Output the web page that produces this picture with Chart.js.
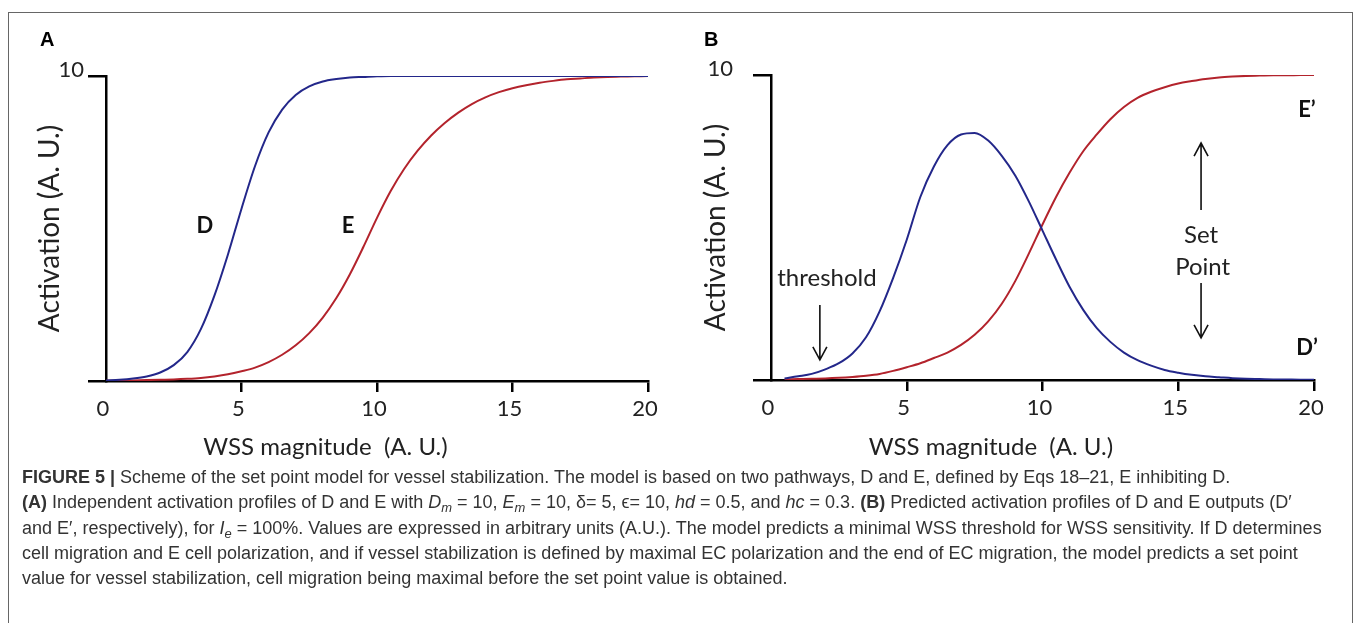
<!DOCTYPE html>
<html>
<head>
<meta charset="utf-8">
<script src="https://cdn.jsdelivr.net/npm/chart.js@4.4.1/dist/chart.umd.min.js"></script>
<style>
  body { margin: 0; background: #fff; }
  #fig { position: relative; width: 1357px; height: 623px; overflow: hidden; background: #fff; }
  #frame { position: absolute; left: 8px; top: 12px; width: 1343px; height: 700px; border: 1px solid #666; }
  #cA { position: absolute; left: 0; top: 0; }
  #cB { position: absolute; left: 680px; top: 0; }
  #caption { position: absolute; left: 22px; top: 465px; font-family: "Liberation Sans", Arial, sans-serif;
             font-size: 18px; line-height: 25.3px; color: #333; white-space: nowrap; }
  #caption sub { font-size: 0.72em; line-height: 0; vertical-align: -0.3em; }
</style>
</head>
<body>
<div id="fig">
  <div id="frame"></div>
  <canvas id="cA" width="680" height="470"></canvas>
  <canvas id="cB" width="677" height="470"></canvas>
  <div id="caption">
    <div><b>FIGURE 5 |</b> Scheme of the set point model for vessel stabilization. The model is based on two pathways, D and E, defined by Eqs 18–21, E inhibiting D.</div>
    <div><b>(A)</b> Independent activation profiles of D and E with <i>D<sub>m</sub></i> = 10, <i>E<sub>m</sub></i> = 10, δ= 5, ϵ= 10, <i>hd</i> = 0.5, and <i>hc</i> = 0.3. <b>(B)</b> Predicted activation profiles of D and E outputs (D′</div>
    <div>and E′, respectively), for <i>I<sub>e</sub></i> = 100%. Values are expressed in arbitrary units (A.U.). The model predicts a minimal WSS threshold for WSS sensitivity. If D determines</div>
    <div>cell migration and E cell polarization, and if vessel stabilization is defined by maximal EC polarization and the end of EC migration, the model predicts a set point</div>
    <div>value for vessel stabilization, cell migration being maximal before the set point value is obtained.</div>
  </div>
</div>
<script>
// WSS magnitude (A.U.), read every 0.5
const wss = [0, 0.5, 1, 1.5, 2, 2.5, 3, 3.5, 4, 4.5, 5, 5.5, 6, 6.5, 7, 7.5, 8, 8.5, 9, 9.5, 10,
             10.5, 11, 11.5, 12, 12.5, 13, 13.5, 14, 14.5, 15, 15.5, 16, 16.5, 17, 17.5, 18, 18.5, 19, 19.5, 20];

// panel A: independent activation of D and E
const dA = [0.02, 0.04, 0.08, 0.15, 0.28, 0.52, 0.95, 1.7, 2.8, 4.15, 5.65, 7.05, 8.15, 8.9, 9.38, 9.66, 9.82, 9.9, 9.95, 9.97, 9.99,
            10, 10, 10, 10, 10, 10, 10, 10, 10, 10, 10, 10, 10, 10, 10, 10, 10, 10, 10, 10];
const eA = [0.01, 0.01, 0.02, 0.03, 0.04, 0.05, 0.07, 0.1, 0.15, 0.22, 0.32, 0.44, 0.62, 0.86, 1.17, 1.57, 2.08, 2.72, 3.5, 4.4, 5.35,
            6.22, 6.95, 7.55, 8.05, 8.46, 8.8, 9.08, 9.3, 9.47, 9.6, 9.7, 9.78, 9.84, 9.89, 9.92, 9.95, 9.97, 9.98, 9.99, 10];

// panel B: outputs D' and E' (curves start at 0.5)
const dB = [null, 0.05, 0.12, 0.2, 0.35, 0.55, 0.87, 1.4, 2.25, 3.35, 4.6, 6.0, 7.0, 7.7, 8.05, 8.1, 7.85, 7.35, 6.7, 5.85, 4.9,
            3.95, 3.05, 2.3, 1.7, 1.25, 0.9, 0.65, 0.47, 0.33, 0.24, 0.17, 0.12, 0.09, 0.06, 0.04, 0.03, 0.02, 0.015, 0.01, 0.01];
const eB = [null, 0.02, 0.03, 0.04, 0.05, 0.07, 0.1, 0.14, 0.2, 0.3, 0.42, 0.55, 0.72, 0.9, 1.15, 1.48, 1.92, 2.5, 3.25, 4.15, 5.1,
            6.0, 6.8, 7.5, 8.05, 8.55, 8.95, 9.25, 9.45, 9.6, 9.72, 9.8, 9.87, 9.92, 9.95, 9.97, 9.98, 9.99, 9.99, 10, 10];

const xTicks = [0, 5, 10, 15, 20];
const yTicks = [0, 10];

const blue = '#23278a';
const red = '#b3232c';
const ink = '#222';

function pts(ys) {
  return wss.map((x, i) => ({ x: x, y: ys[i] }));
}

function line(ys, color) {
  return {
    data: pts(ys),
    borderColor: color,
    borderWidth: 2,
    pointRadius: 0,
    cubicInterpolationMode: 'monotone',
    fill: false
  };
}

function arrow(ctx, x, y1, y2) {
  // y2 is the tip
  const dir = y2 > y1 ? 1 : -1;
  ctx.beginPath();
  ctx.moveTo(x, y1);
  ctx.lineTo(x, y2);
  ctx.moveTo(x - 7, y2 - dir * 13);
  ctx.lineTo(x, y2);
  ctx.lineTo(x + 7, y2 - dir * 13);
  ctx.stroke();
}

const deco = {
  id: 'deco',
  afterDraw(chart, args, o) {
    const ctx = chart.ctx;
    const sx = chart.scales.x, sy = chart.scales.y;
    ctx.save();
    ctx.fillStyle = ink;
    ctx.textAlign = 'center';
    ctx.textBaseline = 'middle';
    ctx.font = '24px Lato';
    ctx.fillText('WSS magnitude  (A. U.)', sx.getPixelForValue(o.titleAt), 447);
    ctx.fillStyle = '#000';
    ctx.font = 'bold 20px "Liberation Sans"';
    ctx.textAlign = 'left';
    ctx.fillText(o.panel, o.panelX, 40);
    ctx.textAlign = 'center';
    o.labels.forEach(l => {
      ctx.font = l.font;
      ctx.fillStyle = l.bold ? '#111' : ink;
      ctx.fillText(l.text, sx.getPixelForValue(l.x), sy.getPixelForValue(l.y));
    });
    ctx.strokeStyle = '#111';
    ctx.lineWidth = 1.6;
    o.arrows.forEach(a => {
      arrow(ctx, sx.getPixelForValue(a.x), sy.getPixelForValue(a.from), sy.getPixelForValue(a.to));
    });
    ctx.restore();
  }
};

function scales(yWidth, xHeight, titlePad, labelPad) {
  return {
    x: {
      type: 'linear', min: 0, max: 20,
      afterBuildTicks: s => { s.ticks = xTicks.map(v => ({ value: v })); },
      afterFit: s => { s.height = xHeight; },
      border: { display: true, color: '#000', width: 2.5 },
      grid: {
        drawOnChartArea: false, tickLength: 11, lineWidth: 2.5,
        color: c => (c.tick && c.tick.value === 0) ? 'rgba(0,0,0,0)' : '#000'
      },
      ticks: { color: ink, font: { family: 'Lato', size: 22 }, padding: 4, labelOffset: -3, maxRotation: 0 }
    },
    y: {
      min: 0, max: 10,
      afterBuildTicks: s => { s.ticks = yTicks.map(v => ({ value: v })); },
      afterFit: s => { s.width = yWidth; },
      border: { display: true, color: '#000', width: 2.5 },
      grid: { drawOnChartArea: false, tickLength: 18, lineWidth: 2.5, color: '#000' },
      ticks: {
        color: ink, font: { family: 'Lato', size: 22 }, padding: labelPad, labelOffset: -6,
        callback: v => (v === 10 ? '10' : '')
      },
      title: {
        display: true, text: 'Activation (A. U.)', color: ink,
        font: { family: 'Lato', size: 28 }, padding: { top: titlePad, bottom: 0 }
      }
    }
  };
}

function opts(pad, yWidth, xHeight, titlePad, labelPad, deco) {
  return {
    responsive: false,
    animation: false,
    devicePixelRatio: 1,
    layout: { padding: pad },
    plugins: { legend: { display: false }, tooltip: { enabled: false }, deco: deco },
    scales: scales(yWidth, xHeight, titlePad, labelPad)
  };
}

new Chart(document.getElementById('cA'), {
  type: 'line',
  data: { datasets: [line(dA, blue), line(eA, red)] },
  options: opts({ top: 76, right: 32, left: 0, bottom: 0 }, 106, 89, 33, 4, {
    panel: 'A', panelX: 40, titleAt: 8.1,
    labels: [
      { text: 'D', x: 3.65, y: 5.08, font: 'bold 22px Lato', bold: true },
      { text: 'E', x: 8.93, y: 5.08, font: 'bold 22px Lato', bold: true }
    ],
    arrows: []
  }),
  plugins: [deco]
});

new Chart(document.getElementById('cB'), {
  type: 'line',
  data: { datasets: [line(dB, blue), line(eB, red)] },
  options: opts({ top: 75, right: 43, left: 0, bottom: 0 }, 91, 90, 19, 20, {
    panel: 'B', panelX: 24, titleAt: 8.1,
    labels: [
      { text: 'threshold', x: 2.06, y: 3.34, font: '24px Lato' },
      { text: 'Set', x: 15.84, y: 4.75, font: '24px Lato' },
      { text: 'Point', x: 15.9, y: 3.7, font: '24px Lato' },
      { text: 'E\u2019', x: 19.74, y: 8.85, font: 'bold 22px Lato', bold: true },
      { text: 'D\u2019', x: 19.74, y: 1.05, font: 'bold 22px Lato', bold: true }
    ],
    arrows: [
      { x: 1.8, from: 2.46, to: 0.66 },
      { x: 15.84, from: 5.57, to: 7.77 },
      { x: 15.84, from: 3.18, to: 1.38 }
    ]
  }),
  plugins: [deco]
});
</script>
</body>
</html>
